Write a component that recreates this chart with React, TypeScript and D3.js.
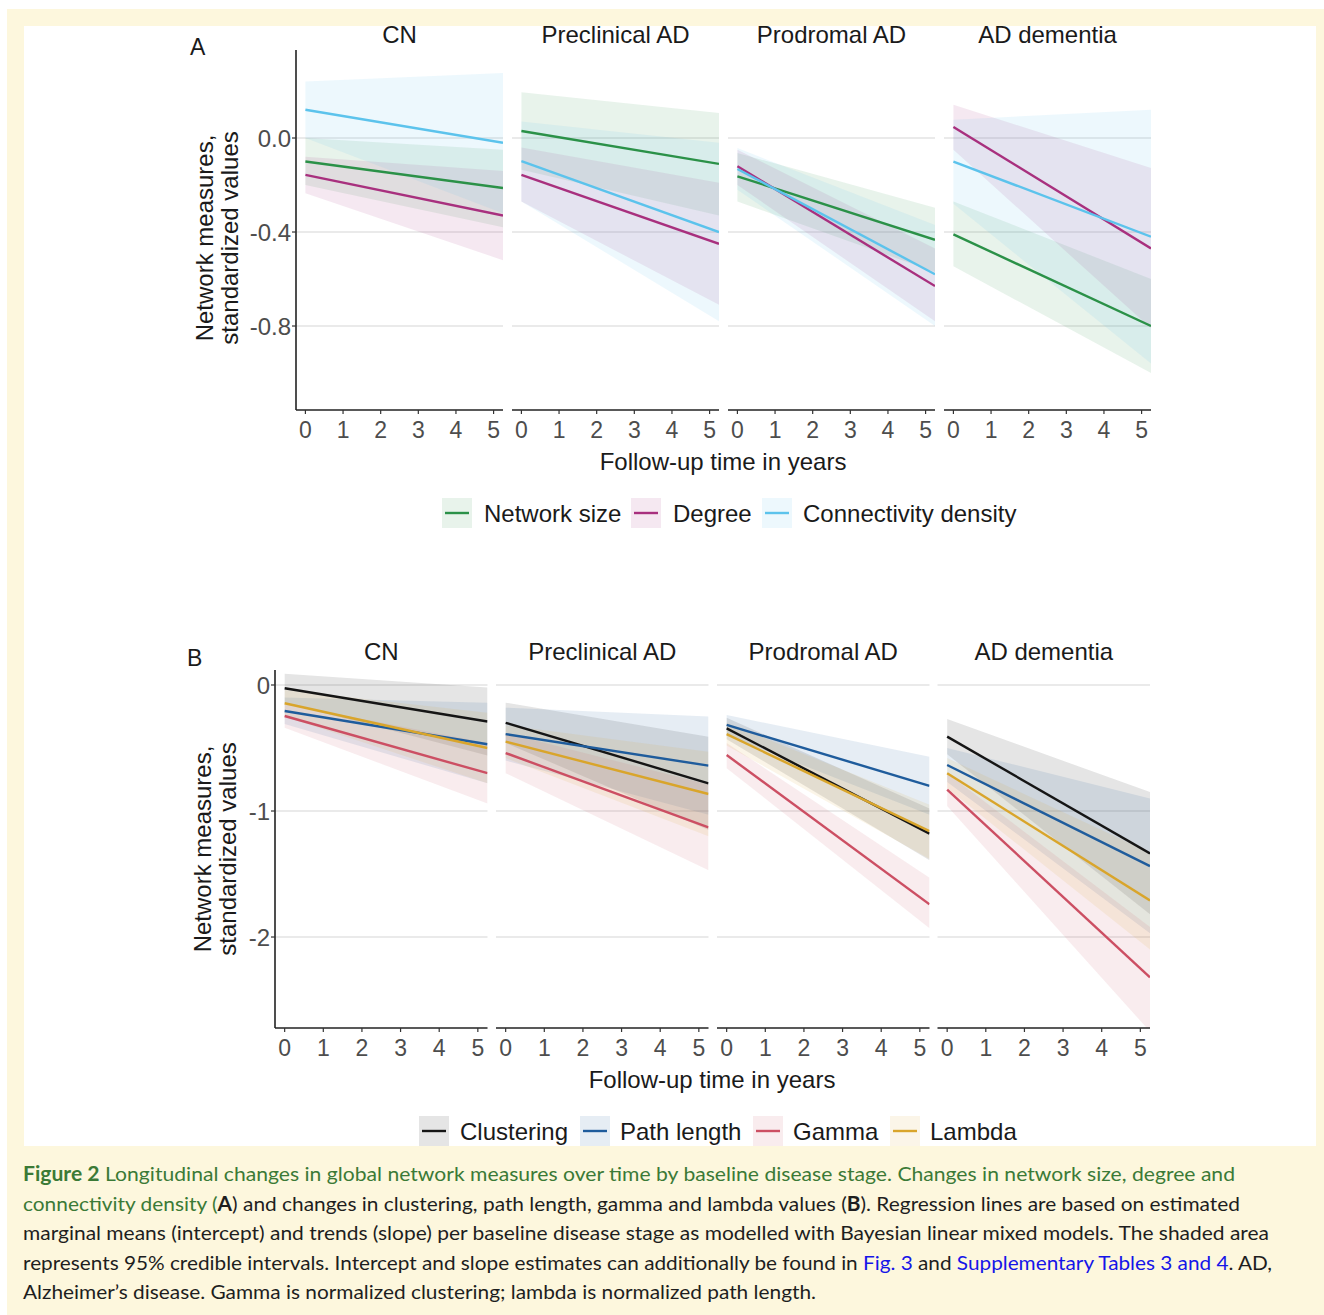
import React from "react";
import * as d3 from "d3";

// stages (facets) and axis ticks
const stages = ["CN", "Preclinical AD", "Prodromal AD", "AD dementia"];
const years = [0, 1, 2, 3, 4, 5];
const timeSpan = [0, 5.25];
const yTicksA = [0, -0.4, -0.8];
const yTicksB = [0, -1, -2];

// panel A series: per stage, estimate / lower / upper at start and end of follow-up
const networkSize = [
  { est: [-0.1, -0.213], lo: [-0.2, -0.38], hi: [0.0, -0.05] },
  { est: [0.03, -0.11], lo: [-0.135, -0.33], hi: [0.195, 0.106] },
  { est: [-0.163, -0.433], lo: [-0.27, -0.57], hi: [-0.064, -0.297] },
  { est: [-0.41, -0.8], lo: [-0.546, -1.0], hi: [-0.27, -0.6] },
];
const degree = [
  { est: [-0.157, -0.33], lo: [-0.235, -0.52], hi: [-0.08, -0.14] },
  { est: [-0.157, -0.45], lo: [-0.27, -0.71], hi: [-0.04, -0.19] },
  { est: [-0.12, -0.63], lo: [-0.2, -0.78], hi: [-0.05, -0.47] },
  { est: [0.047, -0.47], lo: [-0.05, -0.81], hi: [0.142, -0.128] },
];
const connectivity = [
  { est: [0.12, -0.02], lo: [0.0, -0.32], hi: [0.24, 0.277] },
  { est: [-0.098, -0.4], lo: [-0.27, -0.78], hi: [0.07, -0.02] },
  { est: [-0.132, -0.58], lo: [-0.22, -0.8], hi: [-0.043, -0.37] },
  { est: [-0.1, -0.42], lo: [-0.28, -0.96], hi: [0.078, 0.12] },
];

// panel B series
const clustering = [
  { est: [-0.026, -0.29], lo: [-0.14, -0.56], hi: [0.09, -0.02] },
  { est: [-0.3, -0.78], lo: [-0.46, -1.15], hi: [-0.14, -0.41] },
  { est: [-0.344, -1.18], lo: [-0.43, -1.39], hi: [-0.26, -0.98] },
  { est: [-0.41, -1.336], lo: [-0.55, -1.82], hi: [-0.27, -0.85] },
];
const pathLength = [
  { est: [-0.206, -0.47], lo: [-0.31, -0.78], hi: [-0.1, -0.14] },
  { est: [-0.39, -0.64], lo: [-0.6, -1.03], hi: [-0.18, -0.25] },
  { est: [-0.317, -0.8], lo: [-0.4, -1.03], hi: [-0.238, -0.57] },
  { est: [-0.635, -1.437], lo: [-0.77, -1.97], hi: [-0.5, -0.9] },
];
const gamma = [
  { est: [-0.246, -0.7], lo: [-0.34, -0.94], hi: [-0.15, -0.46] },
  { est: [-0.54, -1.13], lo: [-0.7, -1.47], hi: [-0.38, -0.79] },
  { est: [-0.556, -1.74], lo: [-0.66, -1.93], hi: [-0.46, -1.53] },
  { est: [-0.83, -2.32], lo: [-0.96, -2.75], hi: [-0.7, -1.92] },
];
const lambda = [
  { est: [-0.145, -0.5], lo: [-0.25, -0.78], hi: [-0.04, -0.22] },
  { est: [-0.45, -0.865], lo: [-0.58, -1.2], hi: [-0.32, -0.53] },
  { est: [-0.39, -1.16], lo: [-0.48, -1.38], hi: [-0.3, -0.95] },
  { est: [-0.7, -1.71], lo: [-0.82, -2.1], hi: [-0.58, -1.33] },
];

const seriesA = [
  { name: "Network size", color: "#2b9148", data: networkSize },
  { name: "Degree", color: "#a8307e", data: degree },
  { name: "Connectivity density", color: "#5cc3ec", data: connectivity },
];
const seriesB = [
  { name: "Clustering", color: "#151515", data: clustering },
  { name: "Path length", color: "#1f5c9c", data: pathLength },
  { name: "Gamma", color: "#cc4f63", data: gamma },
  { name: "Lambda", color: "#d9a52b", data: lambda },
];

const FONT = "'Liberation Sans', Arial, sans-serif";

// ggplot style labels use a plain hyphen for negatives
const hyphen = (f) => (v) => f(v).replace("\u2212", "-");

const Facets = ({ id, series, layout, yTicks, fmt }) => {
  const y = d3.scaleLinear().domain(layout.yDomain).range([layout.bottom, layout.top]);
  return (
    <g>
      <defs>
        {layout.lefts.map((l, i) => (
          <clipPath id={`${id}-clip-${i}`} key={i}>
            <rect x={l} y={layout.top} width={layout.width} height={layout.bottom - layout.top} />
          </clipPath>
        ))}
      </defs>
      <text x={layout.tagX} y={layout.tagY} fontSize={23} fill="#1a1a1a" fontFamily={FONT}>
        {id}
      </text>
      {stages.map((stage, i) => {
        const left = layout.lefts[i];
        const x = d3.scaleLinear().domain([-0.25, 5.25]).range([left, left + layout.width]);
        const area = d3
          .area()
          .x((d) => x(d.t))
          .y0((d) => y(d.lo))
          .y1((d) => y(d.hi));
        const line = d3
          .line()
          .x((d) => x(d.t))
          .y((d) => y(d.v));
        return (
          <g key={stage}>
            <text
              x={left + layout.width / 2}
              y={layout.stripY}
              textAnchor="middle"
              fontSize={24}
              fill="#1a1a1a"
              fontFamily={FONT}
            >
              {stage}
            </text>
            {yTicks.map((t) => (
              <line key={t} x1={left} x2={left + layout.width} y1={y(t)} y2={y(t)} stroke="#d6d6d6" strokeWidth={1.1} />
            ))}
            <g clipPath={`url(#${id}-clip-${i})`}>
              {series.map((s) => {
                const r = s.data[i];
                const band = timeSpan.map((t, k) => ({ t, lo: r.lo[k], hi: r.hi[k] }));
                return <path key={s.name} d={area(band)} fill={s.color} fillOpacity={0.11} />;
              })}
              {series.map((s) => {
                const r = s.data[i];
                const pts = timeSpan.map((t, k) => ({ t, v: r.est[k] }));
                return <path key={s.name} d={line(pts)} fill="none" stroke={s.color} strokeWidth={2.4} />;
              })}
            </g>
            <line x1={left} x2={left + layout.width} y1={layout.bottom} y2={layout.bottom} stroke="#222" strokeWidth={1.6} />
            {years.map((t) => (
              <g key={t}>
                <line x1={x(t)} x2={x(t)} y1={layout.bottom} y2={layout.bottom + 4} stroke="#333" strokeWidth={1.2} />
                <text
                  x={x(t)}
                  y={layout.bottom + 28}
                  textAnchor="middle"
                  fontSize={23}
                  fill="#4d4d4d"
                  fontFamily={FONT}
                >
                  {t}
                </text>
              </g>
            ))}
          </g>
        );
      })}
      <line
        x1={layout.lefts[0]}
        x2={layout.lefts[0]}
        y1={layout.top}
        y2={layout.bottom}
        stroke="#222"
        strokeWidth={1.6}
      />
      {yTicks.map((t) => (
        <g key={t}>
          <line x1={layout.lefts[0] - 4} x2={layout.lefts[0]} y1={y(t)} y2={y(t)} stroke="#333" strokeWidth={1.2} />
          <text
            x={layout.lefts[0] - 5}
            y={y(t)}
            dy="0.36em"
            textAnchor="end"
            fontSize={24}
            fill="#4d4d4d"
            fontFamily={FONT}
          >
            {fmt(t)}
          </text>
        </g>
      ))}
      <text
        transform={`translate(${layout.titleX},${layout.titleY}) rotate(-90)`}
        textAnchor="middle"
        fontSize={24}
        fill="#1a1a1a"
        fontFamily={FONT}
      >
        <tspan x={0} y={0}>Network measures,</tspan>
        <tspan x={0} y={25}>standardized values</tspan>
      </text>
      <text
        x={layout.xTitleX}
        y={layout.bottom + 60}
        textAnchor="middle"
        fontSize={24}
        fill="#1a1a1a"
        fontFamily={FONT}
      >
        Follow-up time in years
      </text>
      {series.map((s, i) => (
        <g key={s.name}>
          <rect x={layout.keyX[i]} y={layout.legendY - 15} width={30} height={30} fill={s.color} fillOpacity={0.11} />
          <line
            x1={layout.keyX[i] + 3}
            x2={layout.keyX[i] + 27}
            y1={layout.legendY}
            y2={layout.legendY}
            stroke={s.color}
            strokeWidth={2.4}
          />
          <text
            x={layout.keyX[i] + layout.labelDx[i]}
            y={layout.legendY}
            dy="0.36em"
            fontSize={24}
            fill="#1a1a1a"
            fontFamily={FONT}
          >
            {s.name}
          </text>
        </g>
      ))}
    </g>
  );
};

const layoutA = {
  lefts: [296, 512, 728, 944],
  width: 207,
  top: 50,
  bottom: 410,
  yDomain: [-1.1574, 0.3745],
  stripY: 43,
  tagX: 190,
  tagY: 55,
  titleX: 213,
  titleY: 238,
  xTitleX: 723,
  legendY: 513,
  keyX: [442, 631, 762],
  labelDx: [42, 42, 41],
};
const layoutB = {
  lefts: [275, 496, 717, 937.5],
  width: 212.5,
  top: 670,
  bottom: 1028,
  yDomain: [-2.722, 0.119],
  stripY: 660,
  tagX: 187,
  tagY: 666,
  titleX: 211,
  titleY: 849,
  xTitleX: 712,
  legendY: 1131,
  keyX: [419, 580, 753, 890],
  labelDx: [41, 40, 40, 40],
};

const GREEN = "#3b7a36";
const DARK = "#1e1e1e";
const BLUE = "#1515e8";
const CAP = "Lato, 'Open Sans', sans-serif";

const captionLines = [
  {
    width: 1212,
    parts: [
      { t: "Figure 2", c: GREEN, b: true },
      { t: " Longitudinal changes in global network measures over time by baseline disease stage. Changes in network size, degree and", c: GREEN },
    ],
  },
  {
    width: 1217,
    parts: [
      { t: "connectivity density (", c: GREEN },
      { t: "A", c: DARK, b: true },
      { t: ") and changes in clustering, path length, gamma and lambda values (", c: DARK },
      { t: "B", c: DARK, b: true },
      { t: "). Regression lines are based on estimated", c: DARK },
    ],
  },
  {
    width: 1246,
    parts: [
      { t: "marginal means (intercept) and trends (slope) per baseline disease stage as modelled with Bayesian linear mixed models. The shaded area", c: DARK },
    ],
  },
  {
    width: 1249,
    parts: [
      { t: "represents 95% credible intervals. Intercept and slope estimates can additionally be found in ", c: DARK },
      { t: "Fig. 3", c: BLUE },
      { t: " and ", c: DARK },
      { t: "Supplementary Tables 3 and 4", c: BLUE },
      { t: ". AD,", c: DARK },
    ],
  },
  {
    width: 793,
    parts: [{ t: "Alzheimer\u2019s disease. Gamma is normalized clustering; lambda is normalized path length.", c: DARK }],
  },
];

export default function App() {
  return (
    <svg width={1324} height={1315} style={{ display: "block", position: "absolute", left: 0, top: 0 }}>
      <rect x={0} y={0} width={1324} height={1315} fill="#ffffff" />
      <rect x={7} y={9} width={1317} height={1306} fill="#fdf7dd" />
      <rect x={24} y={26} width={1292} height={1120} fill="#ffffff" />
      <Facets id="A" series={seriesA} layout={layoutA} yTicks={yTicksA} fmt={hyphen(d3.format(".1f"))} />
      <Facets id="B" series={seriesB} layout={layoutB} yTicks={yTicksB} fmt={hyphen(d3.format("d"))} />
      {captionLines.map((ln, i) => (
        <text
          key={i}
          x={23}
          y={1181 + i * 29.5}
          fontSize={20}
          fontFamily={CAP}
          textLength={ln.width}
          lengthAdjust="spacingAndGlyphs"
        >
          {ln.parts.map((p, j) => (
            <tspan key={j} fill={p.c} fontWeight={p.b ? 700 : 400}>
              {p.t}
            </tspan>
          ))}
        </text>
      ))}
    </svg>
  );
}
